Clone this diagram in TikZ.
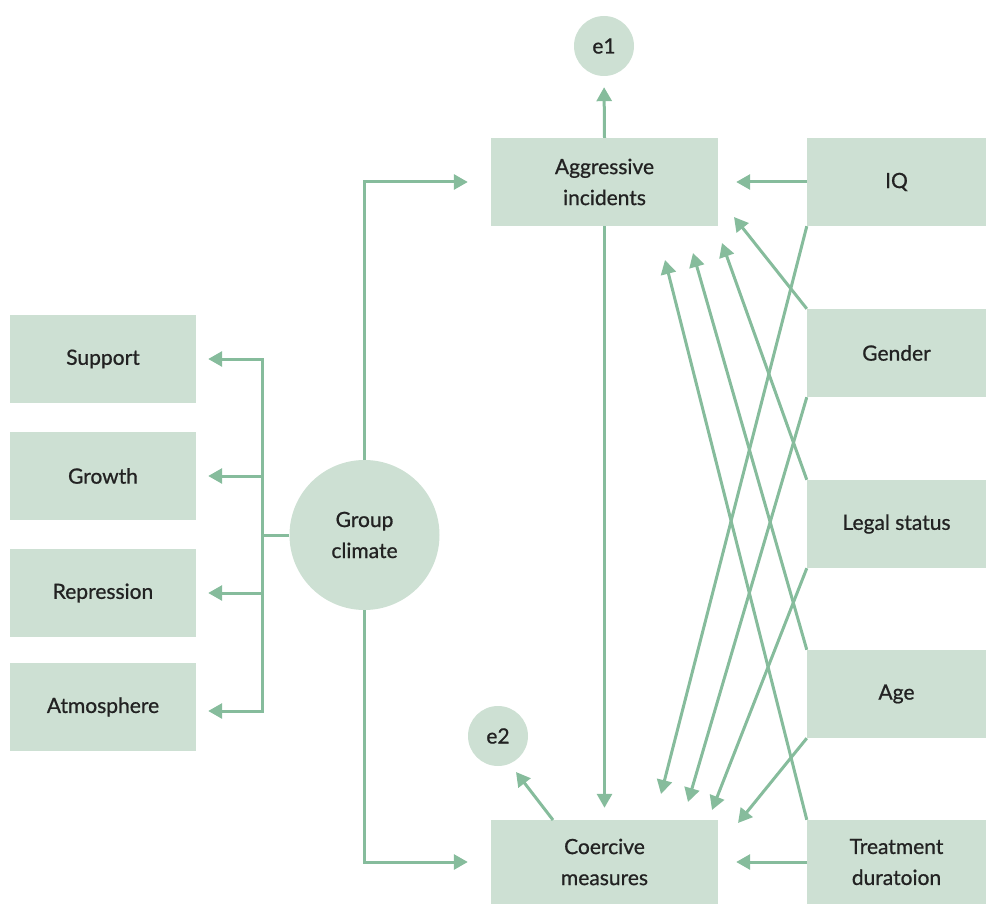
\documentclass[tikz,border=0pt]{standalone}
\usepackage{fontspec}
\setmainfont{Lato}
\newfontfamily\lblfont{Lato}[FakeBold=0.8]
\usetikzlibrary{arrows.meta}
\definecolor{boxfill}{RGB}{205,224,211}
\definecolor{linegreen}{RGB}{134,188,156}
\definecolor{txt}{RGB}{34,34,34}
\begin{document}
\begin{tikzpicture}[x=1pt,y=-1pt,
  lbl/.style={font=\lblfont\fontsize{21}{31}\selectfont,text=txt,align=center,inner sep=0pt},
  box/.style={lbl,fill=boxfill,draw=none,minimum width=227pt,minimum height=88pt},
  rbox/.style={lbl,fill=boxfill,draw=none,minimum width=179pt,minimum height=88pt},
  lbox/.style={lbl,fill=boxfill,draw=none,minimum width=186pt,minimum height=88pt},
  circ/.style={lbl,circle,fill=boxfill,draw=none},
  link/.style={draw=linegreen,line width=3pt},
  conn/.style={link,-{Triangle[length=14pt,width=15pt]}},
]
\useasboundingbox (0,0) rectangle (986,904);
% nodes
\node[box] (agg) at (604.5,182) {Aggressive\\incidents};
\node[box,minimum height=84pt] (coer) at (604.5,862) {Coercive\\measures};
\node[circ,minimum size=60pt] (e1) at (604,46) {e1};
\node[circ,minimum size=60pt] (e2) at (498,736) {e2};
\node[circ,minimum size=150pt] (gc) at (364.5,535) {Group\\climate};
\node[rbox] (iq) at (896.5,182) {IQ};
\node[rbox] (gen) at (896.5,353) {Gender};
\node[rbox] (leg) at (896.5,524) {Legal status};
\node[rbox] (age) at (896.5,694) {Age};
\node[rbox,minimum height=84pt] (trt) at (896.5,862) {Treatment\\duratoion};
\node[lbox] (sup) at (103,359) {Support};
\node[lbox] (gro) at (103,476) {Growth};
\node[lbox] (rep) at (103,593) {Repression};
\node[lbox] (atm) at (103,707) {Atmosphere};
% helper coordinates
\coordinate (bus) at (262,535);
\coordinate (busS) at (262,359);
\coordinate (busG) at (262,476);
\coordinate (busR) at (262,593);
\coordinate (busA) at (262,711);
\coordinate (e2start) at (553,820);
\coordinate (e2tip) at (516,772);
\coordinate (tA1) at (665,260);
\coordinate (tA2) at (693,253);
\coordinate (tA3) at (722,243);
\coordinate (tA4) at (734,217);
\coordinate (tC1) at (661,794);
\coordinate (tC2) at (688,802);
\coordinate (tC3) at (712,810);
\coordinate (tC4) at (738,823);
% group climate connectors
\draw[conn,shorten >=23pt] (gc.north) |- (agg.west);
\draw[conn,shorten >=23pt] (gc.south) |- (coer.west);
\draw[link] (gc.west) -- (bus);
\draw[link,line cap=rect] (busS) -- (busA);
\draw[conn,shorten >=12pt] (busS) -- (sup.east |- busS);
\draw[conn,shorten >=12pt] (busG) -- (gro.east |- busG);
\draw[conn,shorten >=12pt] (busR) -- (rep.east |- busR);
\draw[conn,shorten >=12pt] (busA) -- (atm.east |- busA);
% main structure
\draw[conn,shorten >=11pt] (agg.north) -- (e1.south);
\draw[conn,shorten >=12pt] (agg.south) -- (coer.north);
\draw[conn] (e2start) -- (e2tip);
\draw[conn,shorten >=18pt] (iq.west) -- (agg.east);
\draw[conn,shorten >=18pt] (trt.west) -- (coer.east);
% crossing predictors
\draw[conn] (trt.north west) -- (tA1);
\draw[conn] (age.north west) -- (tA2);
\draw[conn] (leg.north west) -- (tA3);
\draw[conn] (gen.north west) -- (tA4);
\draw[conn] (iq.south west) -- (tC1);
\draw[conn] (gen.south west) -- (tC2);
\draw[conn] (leg.south west) -- (tC3);
\draw[conn] (age.south west) -- (tC4);
\end{tikzpicture}
\end{document}
